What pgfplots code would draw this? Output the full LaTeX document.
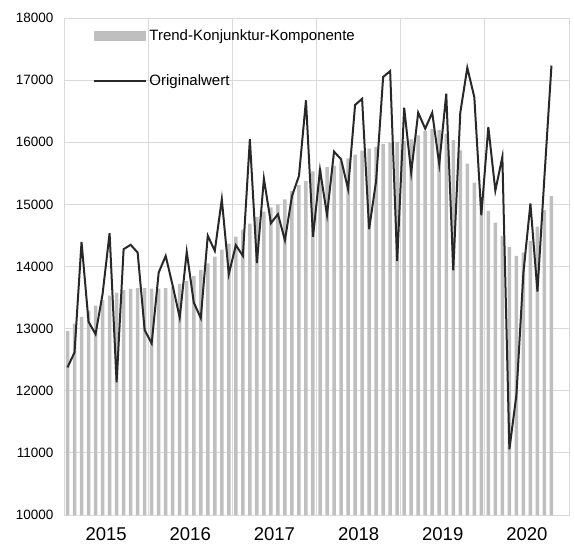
\documentclass[border=0pt]{standalone}
\usepackage{fontspec}
\setmainfont{Liberation Sans}
\usepackage{pgfplots}
\pgfplotsset{compat=1.18}

\definecolor{barcol}{RGB}{191,191,191}
\definecolor{linecol}{RGB}{40,40,40}
\definecolor{gridcol}{RGB}{217,217,217}

\begin{document}
\begin{tikzpicture}
\path[use as bounding box] (-64bp,-30bp) rectangle (511bp,515bp);
\begin{axis}[
    at={(0,0)}, anchor=south west,
    scale only axis,
    width=505bp, height=497bp,
    xmin=0, xmax=72,
    ymin=10000, ymax=18000,
    ytick={10000,11000,...,18000},
    scaled y ticks=false,
    xtick={0,12,...,72},
    xticklabels={},
    extra x ticks={6,18,30,42,54,66},
    extra x tick labels={2015,2016,2017,2018,2019,2020},
    extra x tick style={grid=none, major tick length=0pt,
        tick label style={font=\fontsize{18.5bp}{20bp}\selectfont, yshift=-9bp}},
    major tick length=0pt,
    xmajorgrids, ymajorgrids,
    grid style={draw=gridcol, line width=0.9bp},
    axis line style={draw=gridcol, line width=0.9bp},
    /pgf/number format/assume math mode=true,
    /pgf/number format/1000 sep={},
    yticklabel style={font=\fontsize{13.5bp}{15bp}\selectfont, xshift=-7bp,
        /pgf/number format/fixed, /pgf/number format/precision=0},
    legend style={at={(rel axis cs:0.052,0.985)}, anchor=north west,
        draw=none, fill=none, row sep=29bp,
        font=\fontsize{15bp}{17bp}\selectfont,
        nodes={inner sep=2bp}},
    legend cell align=left,
]
\addplot[ybar, bar width=0.5, bar shift=0pt, draw=none, fill=barcol,
    legend image code/.code={\fill[barcol] (0bp,-5bp) rectangle (52bp,5bp);}]
coordinates {
(0.5,12960) (1.5,13080) (2.5,13190) (3.5,13290) (4.5,13370) (5.5,13460)
(6.5,13530) (7.5,13580) (8.5,13620) (9.5,13640) (10.5,13650) (11.5,13650)
(12.5,13645) (13.5,13645) (14.5,13650) (15.5,13670) (16.5,13720) (17.5,13770)
(18.5,13850) (19.5,13940) (20.5,14050) (21.5,14160) (22.5,14270) (23.5,14370)
(24.5,14480) (25.5,14595) (26.5,14690) (27.5,14795) (28.5,14885) (29.5,14950)
(30.5,15000) (31.5,15080) (32.5,15215) (33.5,15310) (34.5,15380) (35.5,15530)
(36.5,15560) (37.5,15600) (38.5,15620) (39.5,15700) (40.5,15740) (41.5,15800)
(42.5,15865) (43.5,15897) (44.5,15924) (45.5,15968) (46.5,15994) (47.5,16005)
(48.5,16021) (49.5,16048) (50.5,16110) (51.5,16182) (52.5,16215) (53.5,16200)
(54.5,16138) (55.5,16035) (56.5,15871) (57.5,15657) (58.5,15351) (59.5,15120)
(60.5,14895) (61.5,14707) (62.5,14493) (63.5,14313) (64.5,14172) (65.5,14225)
(66.5,14413) (67.5,14640) (68.5,14907) (69.5,15132)
};
\addlegendentry{Trend-Konjunktur-Komponente}
\addplot[linecol, line width=2bp, mark=none,
    legend image code/.code={\draw[linecol, line width=2bp] (0bp,0bp) -- (52bp,0bp);}]
coordinates {
(0.5,12376) (1.5,12617) (2.5,14397) (3.5,13110) (4.5,12912) (5.5,13556)
(6.5,14537) (7.5,12135) (8.5,14279) (9.5,14349) (10.5,14225) (11.5,12977)
(12.5,12762) (13.5,13903) (14.5,14170) (15.5,13689) (16.5,13180) (17.5,14236)
(18.5,13421) (19.5,13170) (20.5,14496) (21.5,14252) (22.5,15083) (23.5,13877)
(24.5,14344) (25.5,14172) (26.5,16048) (27.5,14054) (28.5,15415) (29.5,14697)
(30.5,14842) (31.5,14424) (32.5,15132) (33.5,15458) (34.5,16675) (35.5,14477)
(36.5,15555) (37.5,14831) (38.5,15849) (39.5,15727) (40.5,15249) (41.5,16600)
(42.5,16700) (43.5,14601) (44.5,15378) (45.5,17050) (46.5,17146) (47.5,14086)
(48.5,16556) (49.5,15511) (50.5,16476) (51.5,16219) (52.5,16476) (53.5,15646)
(54.5,16781) (55.5,13940) (56.5,16476) (57.5,17199) (58.5,16727) (59.5,14826)
(60.5,16246) (61.5,15222) (62.5,15764) (63.5,11057) (64.5,11930) (65.5,13900)
(66.5,15013) (67.5,13597) (68.5,15450) (69.5,17235)
};
\addlegendentry{Originalwert}
\end{axis}
\end{tikzpicture}
\end{document}
